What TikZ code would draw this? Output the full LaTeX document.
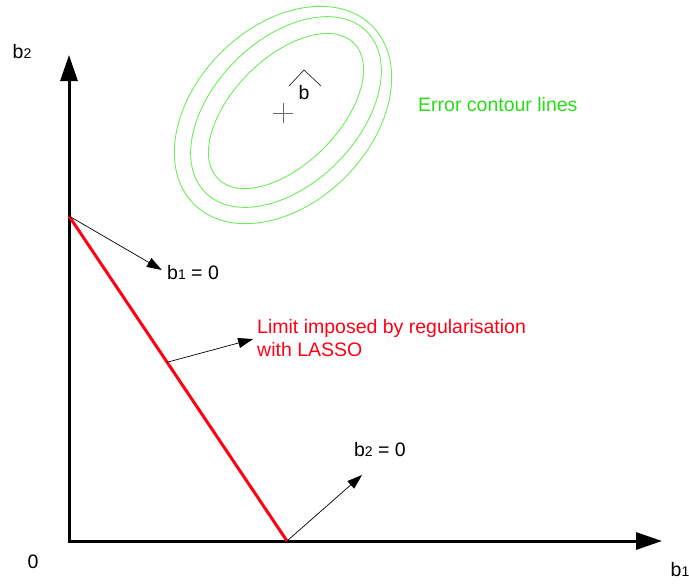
\documentclass[tikz,border=0pt]{standalone}
\usepackage{fontspec}
\setmainfont{Liberation Sans}
\usetikzlibrary{arrows.meta,positioning,calc}
\definecolor{contour}{RGB}{110,235,90}
\definecolor{contourtext}{RGB}{40,220,20}
\definecolor{lassored}{RGB}{255,0,20}
\newcommand{\bidx}[1]{b{\fontsize{14}{14}\selectfont #1}}

\begin{document}
\begin{tikzpicture}[x=1pt,y=-1pt,font=\fontsize{19.5}{23}\selectfont,
    axis/.style={line width=3pt,-{Triangle[length=26pt,width=17pt]}},
    pointer/.style={line width=0.7pt,-{Triangle[length=15pt,width=10pt]}},
    ring/.style={contour,line width=0.9pt},
    lbl/.style={inner sep=0pt}]
    \useasboundingbox (0,0) rectangle (689,584);

    % axes
    \coordinate (O) at (69,541);
    \coordinate (ytip) at (69,55);
    \coordinate (xtip) at (662,541);
    \draw[axis] ([yshift=1.5pt]O) -- (ytip);
    \draw[axis] ([xshift=-1.5pt]O) -- (xtip);
    \node[lbl] (b2ax) at (22,52) {\bidx{2}};
    \node[lbl] (zero) at (33,562) {0};
    \node[lbl] (b1ax) at (680,570) {\bidx{1}};

    % error contours
    \draw[ring, rotate around={45:(283,115)}] (283,115) ellipse [x radius=126, y radius=88];
    \draw[ring, rotate around={45:(286,112)}] (286,112) ellipse [x radius=114, y radius=72];
    \draw[ring, rotate around={45:(286,111)}] (286,111) ellipse [x radius=96, y radius=53];
    \coordinate (bhat) at (283,113);
    \draw[gray!80!black, line width=0.7pt] ([xshift=-10pt]bhat) -- ([xshift=10pt]bhat)
        ([yshift=-10pt]bhat) -- ([yshift=10pt]bhat);
    \node[lbl] (bhatlbl) at (304,93) {b};
    \draw[gray!30!black, line width=0.7pt] (289,86) -- (304,70) -- (321,86);
    \node[lbl, anchor=west, text=contourtext] (errlbl) at (418,105) {Error contour lines};

    % lasso limit
    \coordinate (yint) at (69,216);
    \coordinate (xint) at (287,541);
    \draw[lassored, line width=3pt] (yint) -- (xint);
    \coordinate (lassopt) at ($(yint)!0.45!(xint)$);

    \node[lbl, anchor=west] (b1zero) at (167,273) {\bidx{1} = 0};
    \node[lbl, anchor=west, align=left, text=lassored] (lasso) at (257,338)
        {Limit imposed by regularisation\\with LASSO};
    \node[lbl] (b2zero) at (380,450) {\bidx{2} = 0};
    \coordinate (b2tip) at (362,475);

    \draw[pointer, shorten >=6pt] (yint) -- (b1zero.west);
    \draw[pointer, shorten >=4pt] (lassopt) -- (lasso.west);
    \draw[pointer] (xint) -- (b2tip);
\end{tikzpicture}
\end{document}
